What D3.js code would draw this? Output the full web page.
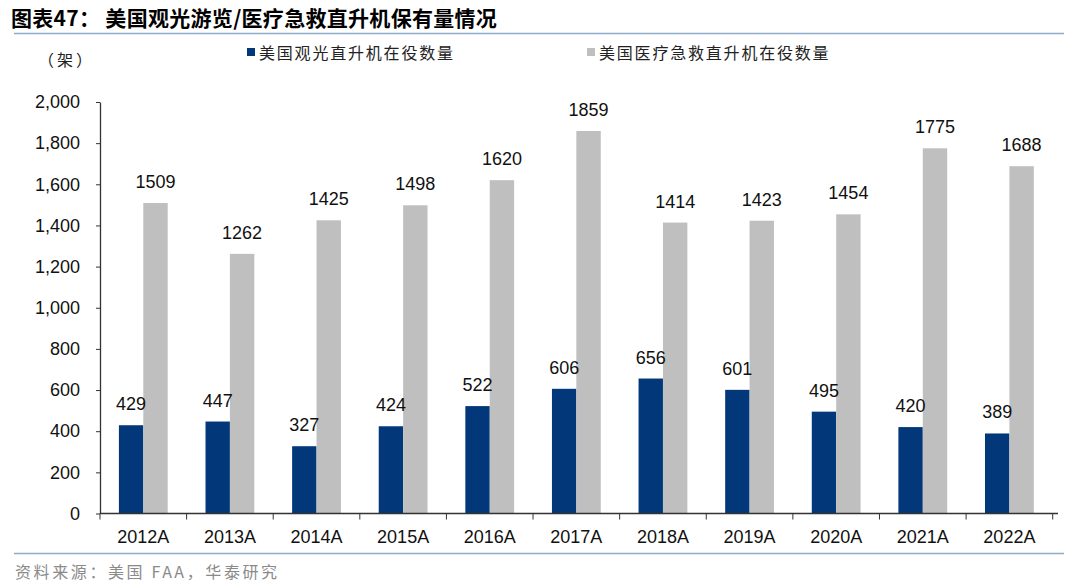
<!DOCTYPE html>
<html><head><meta charset="utf-8">
<script src="https://cdn.jsdelivr.net/npm/d3@7"></script>
<style>body{margin:0;background:#fff}svg{display:block}</style>
</head><body>
<svg id="c" width="1080" height="588"></svg>
<script>
const categories = ["2012A","2013A","2014A","2015A","2016A","2017A","2018A","2019A","2020A","2021A","2022A"];
const sightseeing = [429,447,327,424,522,606,656,601,495,420,389];
const medical = [1509,1262,1425,1498,1620,1859,1414,1423,1454,1775,1688];
const seriesNames = ["美国观光直升机在役数量","美国医疗急救直升机在役数量"];
const yTicks = [0,200,400,600,800,1000,1200,1400,1600,1800,2000];
const title = "图表47：  美国观光游览/医疗急救直升机保有量情况";
const unit = "（架）";
const source = "资料来源：美国 FAA，华泰研究";

const colors = ["#02387A","#BFBFBF"];
const svg = d3.select("#c");
const cjk = "'Noto Sans CJK SC', sans-serif";
const latin = "'Liberation Sans', Arial, sans-serif";

svg.append("text").attr("x",11).attr("y",26).attr("font-family",cjk).attr("font-weight","bold")
  .attr("font-size",21).attr("letter-spacing",0.3).attr("fill","#000").text(title);
svg.append("line").attr("x1",14).attr("x2",1064).attr("y1",33.5).attr("y2",33.5).attr("stroke","#8EAACB").attr("stroke-width",1.5);
svg.append("line").attr("x1",14).attr("x2",1064).attr("y1",553.5).attr("y2",553.5).attr("stroke","#8EAACB").attr("stroke-width",1.5);
svg.append("text").attr("x",15).attr("y",578).attr("font-family",cjk).attr("font-size",16)
  .attr("letter-spacing",2.6).attr("fill","#8a8a8a").text(source);
svg.append("text").attr("x",38).attr("y",66).attr("font-family",cjk).attr("font-size",16)
  .attr("letter-spacing",3).attr("fill","#222").text(unit);

const legX = [247, 587];
seriesNames.forEach((n,i)=>{
  svg.append("rect").attr("x",legX[i]).attr("y",48).attr("width",8).attr("height",8).attr("fill",colors[i]);
  svg.append("text").attr("x",legX[i]+12).attr("y",59).attr("font-family",cjk).attr("font-size",16)
    .attr("letter-spacing",1.8).attr("fill","#222").text(n);
});

const x = d3.scaleBand().domain(categories).range([100,1052.7]).paddingInner(0).paddingOuter(0);
const y = d3.scaleLinear().domain([0,2000]).range([513.5,102]);
const bw = 24.4;

const yAxis = svg.append("g").attr("transform","translate(100,0)")
  .call(d3.axisLeft(y).tickValues(yTicks).tickFormat(d3.format(",")).tickSize(4).tickSizeOuter(0));
yAxis.select(".domain").attr("stroke","#333").attr("stroke-width",1.3);
yAxis.selectAll(".tick line").attr("stroke","#333");
yAxis.selectAll("text").attr("font-family",latin).attr("font-size",18).attr("fill","#111").attr("x",-20);

const gBars = svg.append("g");
const gLabels = svg.append("g");
categories.forEach((c,i)=>{
  const cx = x(c)+x.bandwidth()/2;
  [sightseeing[i],medical[i]].forEach((v,k)=>{
    const bx = cx - bw + k*bw;
    gBars.append("rect").attr("x",bx).attr("y",y(v)).attr("width",bw).attr("height",y(0)-y(v)).attr("fill",colors[k]);
    gLabels.append("text").attr("x",bx+bw/2).attr("y",y(v)-15).attr("text-anchor","middle")
      .attr("font-family",latin).attr("font-size",18).attr("fill","#111").text(v);
  });
});

const xAxis = svg.append("g").attr("transform","translate(0,513.5)");
xAxis.append("line").attr("x1",100).attr("x2",1058).attr("stroke","#333").attr("stroke-width",1.3);
const bounds = categories.map(c=>x(c)).concat([x.range()[1]]);
bounds.forEach(b=>{
  xAxis.append("line").attr("x1",b).attr("x2",b).attr("y1",0).attr("y2",6).attr("stroke","#333");
});
categories.forEach(c=>{
  xAxis.append("text").attr("x",x(c)+x.bandwidth()/2).attr("y",29).attr("text-anchor","middle")
    .attr("font-family",latin).attr("font-size",18).attr("fill","#111").text(c);
});
</script>
</body></html>
